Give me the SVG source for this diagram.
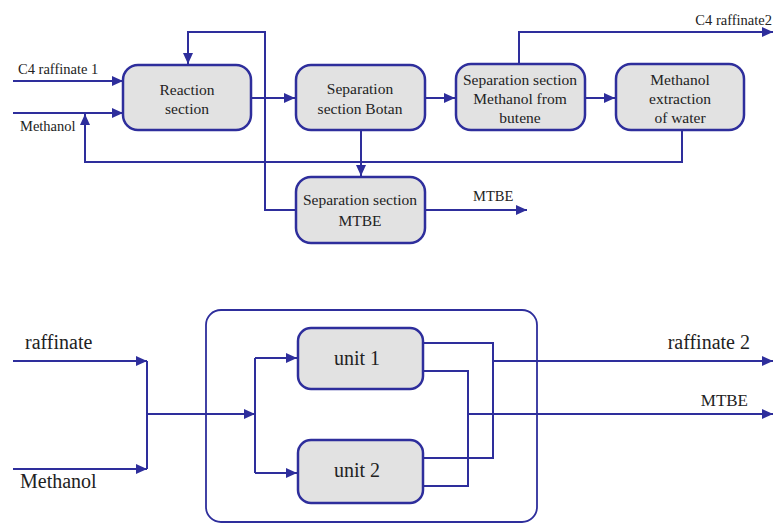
<svg xmlns="http://www.w3.org/2000/svg" width="775" height="524" viewBox="0 0 775 524">
<defs>
<marker id="ah" markerUnits="userSpaceOnUse" markerWidth="12" markerHeight="10" refX="11" refY="5" orient="auto">
<path d="M0,0 L11,5 L0,10 z" fill="#2e2e9c"/>
</marker>
<style>
.box{fill:#e2e2e2;stroke:#2e2e9c;stroke-width:2.5}
.line{fill:none;stroke:#2e2e9c;stroke-width:2}
.arr{marker-end:url(#ah)}
text{font-family:"Liberation Serif","Times New Roman",serif;fill:#222}
.t{font-size:15.5px;text-anchor:middle}
.l{font-size:14.5px}
.b{font-size:20px}
</style>
</defs>
<rect width="775" height="524" fill="#fff"/>
<g id="connectors">
<path class="line arr" d="M13,81 H123"/>
<path class="line arr" d="M13,113 H123"/>
<path class="line arr" d="M682,130 V162 H85 V114"/>
<path class="line arr" d="M296,210 H265 V32 H188 V64"/>
<path class="line arr" d="M251,98 H295"/>
<path class="line arr" d="M425,98 H455"/>
<path class="line arr" d="M585,98 H615"/>
<path class="line arr" d="M361,130 V176"/>
<path class="line arr" d="M519,64 V32 H773"/>
<path class="line arr" d="M425,210 H527"/>
<path class="line arr" d="M13,361 H147"/>
<path class="line arr" d="M13,469 H147"/>
<path class="line" d="M147,361 V469"/>
<path class="line arr" d="M147,414 H255"/>
<path class="line" d="M255,358 V473"/>
<path class="line arr" d="M255,358 H297"/>
<path class="line arr" d="M255,473 H297"/>
<path class="line" d="M423,343 H493 V458 H423"/>
<path class="line" d="M423,371 H468 V486 H423"/>
<path class="line arr" d="M493,361 H773"/>
<path class="line arr" d="M468,414 H773"/>
</g>
<g id="outer"><rect x="206" y="310" width="331" height="212" rx="15" fill="none" stroke="#2e2e9c" stroke-width="1.8"/></g>
<g id="reaction"><rect class="box" x="123" y="65" width="128" height="65" rx="15"/><text class="t" x="187" y="95">Reaction</text><text class="t" x="187" y="114">section</text></g>
<g id="botan"><rect class="box" x="296" y="65" width="129" height="65" rx="15"/><text class="t" x="360" y="94">Separation</text><text class="t" x="360" y="114">section Botan</text></g>
<g id="butene"><rect class="box" x="456" y="64" width="129" height="66" rx="15"/><text class="t" x="520" y="85">Separation section</text><text class="t" x="520" y="104">Methanol from</text><text class="t" x="520" y="123">butene</text></g>
<g id="extraction"><rect class="box" x="616" y="64" width="128" height="66" rx="15"/><text class="t" x="680" y="85">Methanol</text><text class="t" x="680" y="104">extraction</text><text class="t" x="680" y="123">of water</text></g>
<g id="mtbe"><rect class="box" x="296" y="177" width="129" height="66" rx="15"/><text class="t" x="360" y="205">Separation section</text><text class="t" x="360" y="226">MTBE</text></g>
<g id="unit1"><rect class="box" x="298" y="328" width="125" height="61" rx="13"/><text class="b" x="357" y="365" text-anchor="middle">unit 1</text></g>
<g id="unit2"><rect class="box" x="298" y="440" width="125" height="63" rx="13"/><text class="b" x="357" y="477" text-anchor="middle">unit 2</text></g>
<g id="labels">
<text class="l" x="18" y="74">C4 raffinate 1</text>
<text class="l" x="20" y="131">Methanol</text>
<text class="l" x="772" y="25" text-anchor="end">C4 raffinate2</text>
<text class="l" x="473" y="201">MTBE</text>
<text class="b" x="25" y="349">raffinate</text>
<text class="b" x="20" y="488">Methanol</text>
<text class="b" x="750" y="349" text-anchor="end">raffinate 2</text>
<text x="748" y="406" text-anchor="end" font-size="17">MTBE</text>
</g>
</svg>
